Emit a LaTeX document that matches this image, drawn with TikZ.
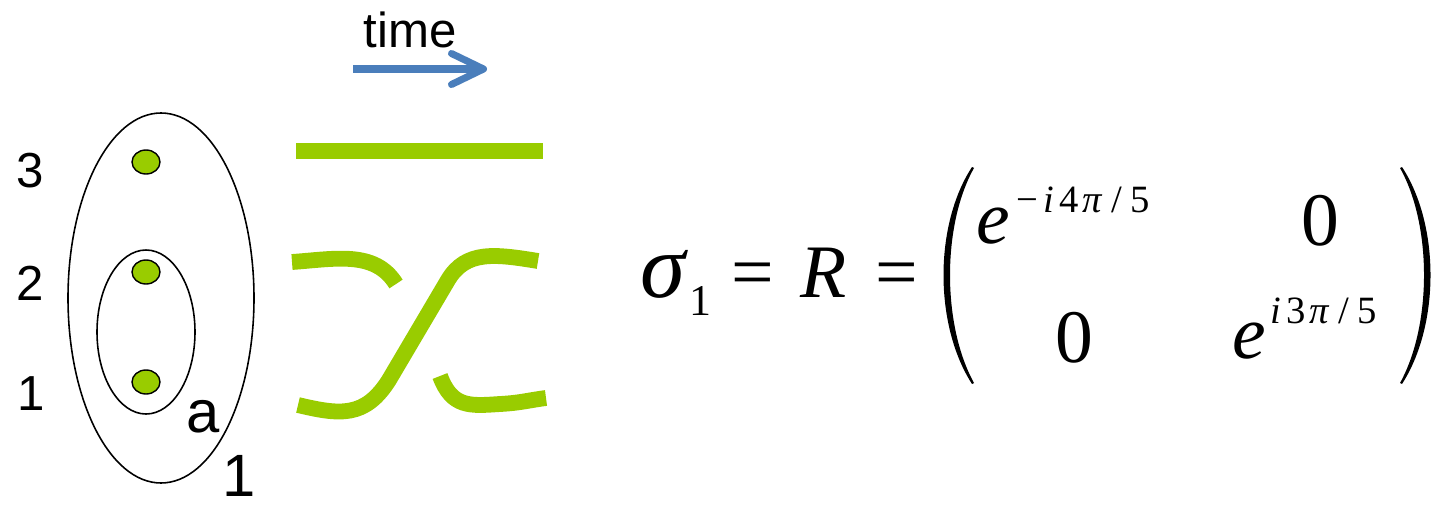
\documentclass[tikz,border=0pt]{standalone}
\usepackage{fontspec}
\setmainfont{Liberation Sans}
\newfontfamily\eqfont{Liberation Serif}
\usetikzlibrary{arrows.meta}
\definecolor{strandgreen}{HTML}{99CC00}
\definecolor{timeblue}{HTML}{4A7EBB}

\begin{document}
\begin{tikzpicture}[x=0.02cm, y=-0.02cm,
  strand/.style={draw=strandgreen, line width=9pt},
  anyon/.style={draw=black, line width=0.8pt, fill=strandgreen},
  loop/.style={draw=black, line width=0.9pt},
  lbl/.style={inner sep=0pt, anchor=base, font=\fontsize{28}{30}\selectfont},
  eq/.style={inner sep=0pt, anchor=base, font=\eqfont\fontsize{43}{48}\selectfont},
  ex/.style={inner sep=0pt, anchor=base west, font=\eqfont\fontsize{22}{24}\selectfont}]
  \useasboundingbox (0,0) rectangle (1436,507);

  % Fusion loops
  \draw[loop] (161,298) ellipse [x radius=93, y radius=185];
  \draw[loop] (146,332) ellipse [x radius=49, y radius=82];

  % Anyons
  \foreach \y in {162,272,382}
    \draw[anyon] (146,\y) ellipse [x radius=14, y radius=12];

  % Labels
  \node[lbl] (n3) at (30,187) {3};
  \node[lbl] (n2) at (30,300) {2};
  \node[lbl] (n1) at (31,410) {1};
  \node[lbl, font=\fontsize{34}{36}\selectfont] (fa) at (203,432) {a};
  \node[lbl, font=\fontsize{34}{36}\selectfont] (fone) at (239,496) {1};

  % Time arrow
  \node[lbl] (time) at (410,47) {time};
  \coordinate (t0) at (353,69);
  \coordinate (t1) at (487,69);
  \draw[timeblue, line width=4pt, -{Straight Barb[length=6.4mm, width=6.2mm, round]}] (t0) -- (t1);

  % Braid
  \draw[strand] (296,151) -- (543,151);
  \draw[strand] (292,262) .. controls (335,259) and (375,250) .. (396,284);
  \draw[strand] (440,376) .. controls (452,408) and (470,406) .. (500,404)
    .. controls (520,403) and (530,400) .. (546,398);
  \draw[strand] (298,405) .. controls (340,415) and (365,418) .. (389,380)
    -- (448,280) .. controls (466,250) and (495,254) .. (538,261);

  % Equation
  \node[eq, anchor=base west, font=\eqfont\fontsize{52}{56}\selectfont] (sigma) at (640,297) {\itshape σ};
  \node[ex, font=\eqfont\fontsize{25}{28}\selectfont] (sub) at (689,315) {1};
  \node[eq] (eqA) at (753,297) {=};
  \node[eq, anchor=base west] (R) at (800,297) {\itshape R};
  \node[eq] (eqB) at (897,297) {=};

  % Matrix
  \fill (972,167) .. controls (934,225) and (934,325) .. (972,384)
    -- (974,383) .. controls (942,325) and (942,225) .. (974,168) -- cycle;
  \fill (1402,167) .. controls (1440,225) and (1440,325) .. (1402,384)
    -- (1400,383) .. controls (1432,325) and (1432,225) .. (1400,168) -- cycle;
  \node[eq, anchor=base west] (e11) at (976,243) {\itshape e};
  \node[ex] (x11) at (1016,212) {−\kern3pt\textit{i}\kern3pt4\kern2pt\textit{π}\kern5pt/\kern5pt5};
  \node[eq] (m12) at (1320,245) {0};
  \node[eq] (m21) at (1074,362) {0};
  \node[eq, anchor=base west] (e22) at (1232,358) {\itshape e};
  \node[ex] (x22) at (1270,323) {\textit{i}\kern3pt3\kern2pt\textit{π}\kern5pt/\kern5pt5};
\end{tikzpicture}
\end{document}
